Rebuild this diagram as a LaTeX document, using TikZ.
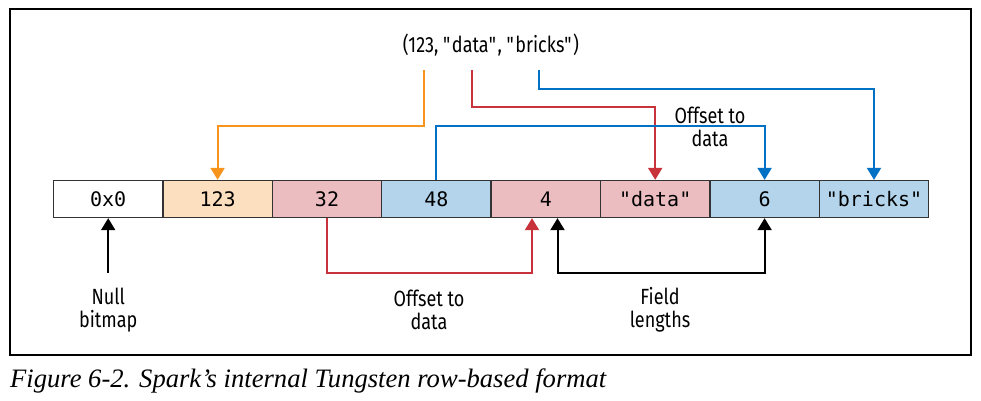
\documentclass[tikz,border=0pt]{standalone}
\usepackage{fontspec}
\setmainfont[FakeStretch=0.82]{Fira Sans}
\setmonofont{DejaVu Sans Mono}
\newfontfamily\capfont{Liberation Serif}
\usetikzlibrary{positioning,arrows.meta}

\definecolor{rowline}{HTML}{333333}
\definecolor{lnorange}{HTML}{F7941D}
\definecolor{fillorange}{HTML}{FCDFBE}
\definecolor{lnred}{HTML}{C8323A}
\definecolor{fillred}{HTML}{EBBDC0}
\definecolor{lnblue}{HTML}{0071C5}
\definecolor{fillblue}{HTML}{B3D4EA}

\tikzset{
  cell/.style={draw=rowline, line width=1.3pt, minimum width=109.4pt,
    minimum height=37pt, inner sep=0pt,
    font=\ttfamily\fontsize{20}{22}\selectfont},
  lbl/.style={align=center, inner sep=0pt,
    font=\fontsize{22}{23}\selectfont},
  wire/.style={line width=2pt},
  tip/.style={-{Triangle[width=14pt,length=12pt]}},
  tips/.style={{Triangle[width=14pt,length=12pt]}-{Triangle[width=14pt,length=12pt]}}
}

\begin{document}
\begin{tikzpicture}[x=1pt,y=-1pt]
        \useasboundingbox (0,0) rectangle (981,400);

        \draw[line width=1.2pt] (10,9) rectangle (971,355);

        \draw (491,45) node[lbl] (tuple)
        {(123, \textquotedbl data\textquotedbl, \textquotedbl bricks\textquotedbl)};

        \draw (108.2,199) node[cell, fill=white] (v0) {0x0};

        \draw (217.6,199) node[cell, fill=fillorange] (v123) {123};

        \draw (327,199) node[cell, fill=fillred] (v32) {32};

        \draw (436.4,199) node[cell, fill=fillblue] (v48) {48};

        \draw (545.8,199) node[cell, fill=fillred] (v4) {4};

        \draw (655.2,199) node[cell, fill=fillred] (vdata) {"data"};

        \draw (764.6,199) node[cell, fill=fillblue] (v6) {6};

        \draw (874,199) node[cell, fill=fillblue] (vbricks) {"bricks"};

        \draw (710,126.5) node[lbl] (offtop) {Offset to\\data};

        \draw (108.2,310) node[lbl] (nullbm) {Null\\bitmap};

        \draw (429,310) node[lbl] (offbot) {Offset to\\data};

        \draw (660,310) node[lbl] (fieldlen) {Field\\lengths};

        \coordinate (t123) at (424,70);
        \coordinate (tdata) at (471.7,70);
        \coordinate (tbricks) at (539.3,70);

        \draw[wire,tip,lnorange] (t123) -- ++(0,55.7) -| (v123.north);

        \draw[wire,tip,lnred] (tdata) -- ++(0,37) -| (vdata.north);

        \draw[wire,tip,lnblue] (tbricks) -- ++(0,19) -| (vbricks.north);

        \draw[wire,tip,lnblue] (v48.north) -- ++(0,-54.3) -| (v6.north);

        \draw[wire,tip,lnred] (v32.south) -- ++(0,54.7)
        -| ([xshift=-13.8pt]v4.south);

        \draw[wire,tips] ([xshift=11.7pt]v4.south) -- ++(0,54.7) -| (v6.south);

        \draw[wire,tip] ([yshift=-55pt]v0.south) -- (v0.south);

        \draw (10,381) node[anchor=west, inner sep=0pt,
        font=\capfont\itshape\fontsize{26.6}{28}\selectfont] (caption)
        {Figure 6-2. Spark’s internal Tungsten row-based format};
      \end{tikzpicture}
\end{document}
